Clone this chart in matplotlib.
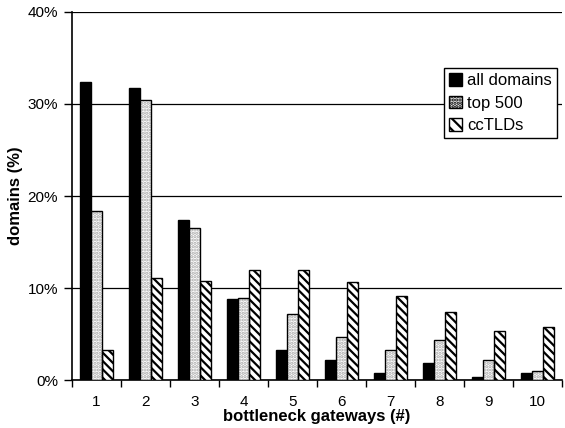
import numpy as np
import matplotlib.pyplot as plt
from matplotlib.patches import Patch
from matplotlib.ticker import FuncFormatter

plt.rcParams['font.family'] = ['Liberation Sans', 'DejaVu Sans']
plt.rcParams['hatch.linewidth'] = 1.6

gateways = ['1', '2', '3', '4', '5', '6', '7', '8', '9', '10']
all_domains = [32.4, 31.7, 17.4, 8.8, 3.3, 2.2, 0.8, 1.9, 0.3, 0.8]
top_500 = [18.4, 30.4, 16.5, 8.9, 7.2, 4.7, 3.3, 4.3, 2.2, 1.0]
cctlds = [3.3, 11.1, 10.8, 12.0, 12.0, 10.7, 9.1, 7.4, 5.3, 5.8]

fig = plt.figure(figsize=(5.65, 4.28), dpi=100)
ax = fig.add_axes([0.1274, 0.1121, 0.8673, 0.8599])

x = np.arange(1, len(gateways) + 1)
w = 0.23

ax.bar(x - w, all_domains, w, color='black', edgecolor='black', linewidth=1, zorder=3)
# dotted fill: grey dots, then a black outline on top
ax.bar(x, top_500, w, color='white', edgecolor='#a8a8a8', linewidth=0,
       hatch='.....', zorder=3)
ax.bar(x, top_500, w, fill=False, edgecolor='black', linewidth=1, zorder=4)
ax.bar(x + w, cctlds, w, color='white', edgecolor='black', linewidth=1,
       hatch='\\\\\\\\', zorder=3)

ax.set_ylim(0, 40)
ax.set_xlim(0.5, len(gateways) + 0.5)
ax.set_yticks([0, 10, 20, 30, 40])
ax.yaxis.set_major_formatter(FuncFormatter(lambda v, p: f'{v:.0f}%'))
ax.yaxis.grid(True, color='black', linewidth=0.9, zorder=0)

# ticks between groups, labels in the middle
ax.set_xticks(np.arange(0.5, len(gateways) + 1, 1))
ax.set_xticklabels([])
ax.set_xticks(x, minor=True)
ax.set_xticklabels(gateways, minor=True)
ax.tick_params(axis='x', which='major', length=5, width=1, direction='out')
ax.tick_params(axis='x', which='minor', length=0, pad=11)
ax.tick_params(axis='y', length=6, width=1, direction='out', pad=4)
ax.tick_params(which='both', labelsize=11, colors='black')

for s in ['top', 'right']:
    ax.spines[s].set_visible(False)
for s in ['left', 'bottom']:
    ax.spines[s].set_linewidth(1.2)

ax.set_xlabel('bottleneck gateways (#)', fontsize=12, fontweight='bold', labelpad=0)
ax.set_ylabel('domains (%)', fontsize=12, fontweight='bold', labelpad=3)

handles = [
    Patch(facecolor='black', edgecolor='black', label='all domains'),
    Patch(facecolor='#e4e4e4', edgecolor='black', hatch='.....', label='top 500'),
    Patch(facecolor='white', edgecolor='black', hatch='\\\\\\', label='ccTLDs'),
]
leg = ax.legend(handles=handles, loc='upper right', bbox_to_anchor=(0.99, 0.848),
                fontsize=12, frameon=True, fancybox=False, framealpha=1,
                edgecolor='black', handlelength=0.8, handleheight=0.8,
                handletextpad=0.3, borderpad=0.3, labelspacing=0.45,
                borderaxespad=0)
leg.get_frame().set_linewidth(1)

fig.savefig('out.png', dpi=100)
